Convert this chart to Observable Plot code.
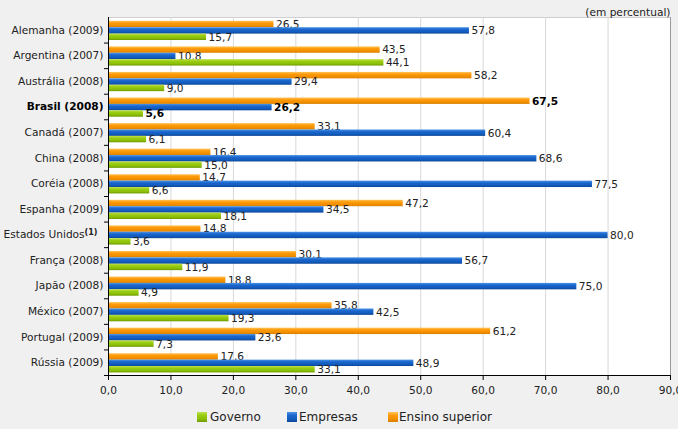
<!DOCTYPE html>
<html>
<head>
<meta charset="utf-8">
<script src="https://cdn.jsdelivr.net/npm/d3@7"></script>
<script src="https://cdn.jsdelivr.net/npm/@observablehq/plot@0.6"></script>
<style>
  html, body { margin: 0; padding: 0; background: #f0f0f0; }
  body { width: 678px; height: 429px; overflow: hidden; font-family: "DejaVu Sans", Verdana, sans-serif; }
  #legend { position: relative; width: 678px; height: 29px; font-size: 12px; color: #222; }
  #legend .sw { position: absolute; top: 12px; width: 10px; height: 10px; }
  #legend .lb { position: absolute; top: 10px; line-height: 15px; }
</style>
</head>
<body>
<div id="chart"></div>
<div id="legend"></div>
<script>
const countries = [
  "Alemanha (2009)", "Argentina (2007)", "Austrália (2008)", "Brasil (2008)",
  "Canadá (2007)", "China (2008)", "Coréia (2008)", "Espanha (2009)",
  "Estados Unidos(1)", "França (2008)", "Japão (2008)", "México (2007)",
  "Portugal (2009)", "Rússia (2009)"
];
const ensinoSuperior = [26.5, 43.5, 58.2, 67.5, 33.1, 16.4, 14.7, 47.2, 14.8, 30.1, 18.8, 35.8, 61.2, 17.6];
const empresas       = [57.8, 10.8, 29.4, 26.2, 60.4, 68.6, 77.5, 34.5, 80.0, 56.7, 75.0, 42.5, 23.6, 48.9];
const governo        = [15.7, 44.1,  9.0,  5.6,  6.1, 15.0,  6.6, 18.1,  3.6, 11.9,  4.9, 19.3,  7.3, 33.1];
const seriesLabels = ["Governo", "Empresas", "Ensino superior"];
const highlight = "Brasil (2008)";
const noteLabel = "Estados Unidos(1)";
const xTicks = [0, 10, 20, 30, 40, 50, 60, 70, 80, 90];
const unitNote = "(em percentual)";

const rows = countries.map((c, i) => ({
  country: c, ensino: ensinoSuperior[i], empresas: empresas[i], governo: governo[i]
}));

const W = 678, H = 400, mL = 108, mR = 8, mT = 17, mB = 25;
const step = (H - mT - mB) / countries.length;
const top0 = 3.8, barH = 6.4;
const fmt = v => d3.format(".1f")(v).replace(".", ",");

const series = [
  {key: "ensino", grad: "url(#gOrange)", k: 0},
  {key: "empresas", grad: "url(#gBlue)", k: 1},
  {key: "governo", grad: "url(#gGreen)", k: 2}
];

const marks = [
  Plot.frame({fill: "white", stroke: "#cfcfcf"}),
  Plot.gridX({ticks: xTicks, stroke: "#d8d8d8", strokeOpacity: 1})
];
for (const s of series) {
  const insetTop = top0 + barH * s.k;
  const insetBottom = step - insetTop - barH;
  const dy = insetTop + barH / 2 - step / 2;
  marks.push(Plot.barX(rows, {x: s.key, y: "country", insetTop, insetBottom, fill: s.grad}));
  marks.push(Plot.text(rows.filter(d => d.country !== highlight), {
    x: s.key, y: "country", text: d => fmt(d[s.key]), textAnchor: "start", dx: 2, dy, fill: "#222"
  }));
  marks.push(Plot.text(rows.filter(d => d.country === highlight), {
    x: s.key, y: "country", text: d => fmt(d[s.key]), textAnchor: "start", dx: 2, dy, fill: "#000", fontWeight: "bold"
  }));
}
marks.push(
  Plot.ruleX([90], {stroke: "#999"}),
  Plot.ruleX([0], {stroke: "#000"}),
  Plot.ruleY([countries[countries.length - 1]], {dy: step / 2, stroke: "#000"}),
  Plot.ruleY(countries, {y: d => d, dy: step / 2, x1: 0, x2: 0, insetLeft: -4, stroke: "#000"}),
  Plot.axisX({ticks: xTicks, tickFormat: fmt, tickSize: 5, tickPadding: 6, stroke: "#000", fill: "#222", label: null}),
  Plot.text(countries.filter(c => c !== highlight && c !== noteLabel), {
    y: d => d, text: d => d, frameAnchor: "left", textAnchor: "end", dx: -5, fill: "#222"
  }),
  Plot.text([noteLabel], {
    y: d => d, text: d => d, frameAnchor: "left", textAnchor: "end", dx: -11, fill: "#222"
  }),
  Plot.text([highlight], {
    y: d => d, text: d => d, frameAnchor: "left", textAnchor: "end", dx: -5, fill: "#000", fontWeight: "bold"
  }),
  Plot.text([unitNote], {text: d => d, frameAnchor: "top-right", textAnchor: "end", dy: -9, fill: "#222"})
);

const plot = Plot.plot({
  width: W, height: H,
  marginLeft: mL, marginRight: mR, marginTop: mT, marginBottom: mB,
  style: {background: "transparent", fontFamily: "'DejaVu Sans', Verdana, sans-serif", fontSize: "10.6px", overflow: "visible"},
  x: {domain: [0, 90], axis: null},
  y: {domain: countries, padding: 0, round: false, axis: null},
  marks
});

// Superscript "(1)" note marker on the Estados Unidos label
d3.select(plot).selectAll("text").filter(function() { return this.textContent === noteLabel; })
  .each(function() {
    const t = d3.select(this);
    t.text("Estados Unidos");
    t.append("tspan").attr("dy", "-0.45em").attr("font-size", "8px").attr("font-weight", "bold").text("(1)");
  });

const defs = d3.select(plot).insert("defs", ":first-child");
const grads = {
  gOrange: ["#ffc45a", "#ff9a0a", "#f29000", "#d97f00"],
  gBlue: ["#4a93e6", "#1a66cc", "#135cbf", "#0b4796"],
  gGreen: ["#bde04a", "#99cc11", "#8bbf08", "#6f9a00"]
};
for (const [id, cs] of Object.entries(grads)) {
  const g = defs.append("linearGradient").attr("id", id).attr("x1", 0).attr("y1", 0).attr("x2", 0).attr("y2", 1);
  [0, 0.35, 0.7, 1].forEach((o, i) => g.append("stop").attr("offset", o).attr("stop-color", cs[i]));
}
document.getElementById("chart").appendChild(plot);

const legendItems = [
  {label: seriesLabels[0], c: grads.gGreen, sx: 197, tx: 210},
  {label: seriesLabels[1], c: grads.gBlue, sx: 287, tx: 299},
  {label: seriesLabels[2], c: grads.gOrange, sx: 388, tx: 399}
];
const leg = document.getElementById("legend");
for (const it of legendItems) {
  const sw = document.createElement("div");
  sw.className = "sw";
  sw.style.left = it.sx + "px";
  sw.style.background = `linear-gradient(${it.c[0]}, ${it.c[1]} 35%, ${it.c[2]} 70%, ${it.c[3]})`;
  leg.appendChild(sw);
  const lb = document.createElement("div");
  lb.className = "lb";
  lb.style.left = it.tx + "px";
  lb.textContent = it.label;
  leg.appendChild(lb);
}
</script>
</body>
</html>
